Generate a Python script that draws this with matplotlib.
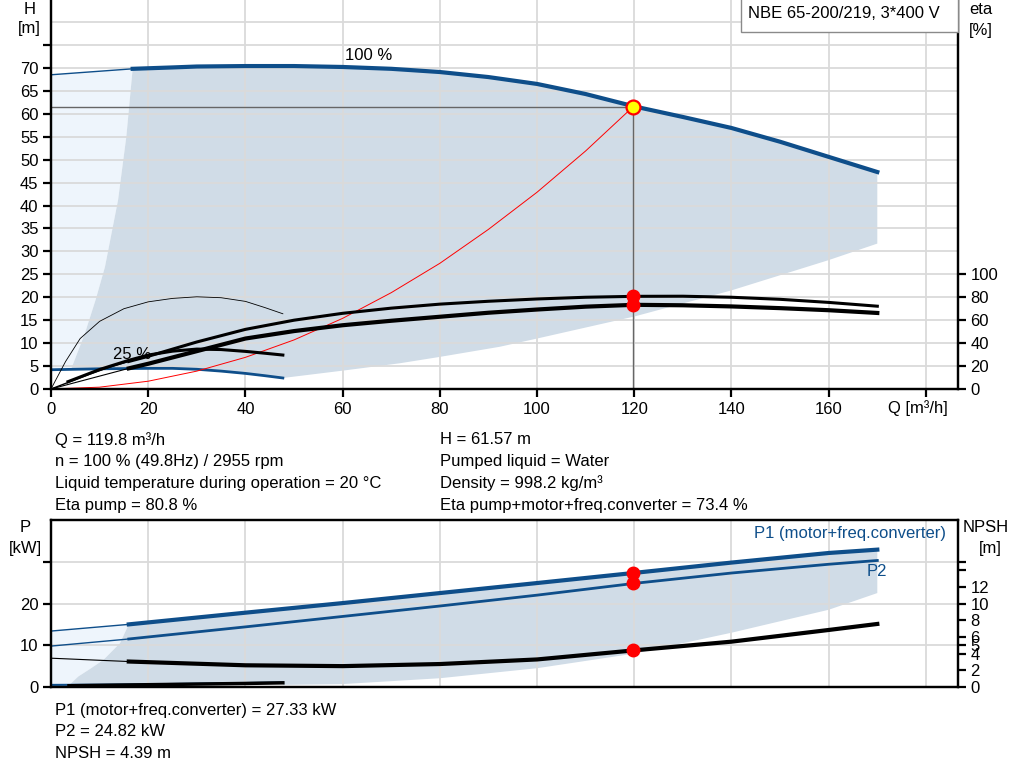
import matplotlib
matplotlib.use("Agg")
import matplotlib.pyplot as plt

plt.rcParams["font.family"] = ["Liberation Sans", "DejaVu Sans"]
plt.rcParams["font.size"] = 12

BLUE = "#0e4e8a"
SHADE = "#d0dce7"
LIGHT = "#eef5fc"
GRID = "#dadada"

# duty point
duty_q = 119.8
duty_h = 61.57
duty_eta_pump = 80.8
duty_eta_total = 73.4
duty_p1 = 27.33
duty_p2 = 24.82
duty_npsh = 4.39

# head curve, 100 % speed
h100_q = [0, 16.8, 25, 30, 40, 50, 60, 70, 80, 90, 100, 110, 120, 130, 140, 150, 160, 170]
h100_h = [68.5, 69.8, 70.1, 70.3, 70.4, 70.4, 70.2, 69.8, 69.1, 68.0, 66.5, 64.3, 61.6, 59.3, 56.9, 53.9, 50.6, 47.3]

# head curve, 25 % speed
h25_q = [0, 10, 20, 25, 30, 35, 40, 44, 47.7]
h25_h = [4.2, 4.4, 4.5, 4.5, 4.3, 3.9, 3.4, 2.9, 2.4]

# limits of the operating area
minflow_q = [4.2, 7.0, 9.2, 11.1, 13.8, 15.5, 16.8]
minflow_h = [4.5, 12.2, 19.5, 26.6, 41.2, 55.0, 69.8]
maxflow_q = [47.7, 60, 71.7, 80, 92.3, 100, 120, 140, 160, 170]
maxflow_h = [2.4, 4.0, 5.6, 7.0, 9.2, 11.0, 15.8, 21.5, 28.1, 31.7]

# system curve
sys_q = [0, 10, 20, 30, 40, 50, 60, 70, 80, 90, 100, 110, 119.8]
sys_h = [0, 0.4, 1.7, 3.9, 6.9, 10.7, 15.4, 21.0, 27.4, 34.8, 42.9, 51.9, 61.57]

# efficiency curves [%]
eta_q = [0, 4, 8, 12, 16, 20, 30, 40, 50, 60, 70, 80, 90, 100, 110, 120, 130, 140, 150, 160, 170]
eta_pump = [0, 6.5, 13, 19, 24, 28.5, 41, 52, 60, 66, 70.5, 74, 76.5, 78.5, 80, 80.8, 80.9, 80, 78.2, 75.5, 72.2]
eta_total = [0, 4.5, 9, 13.5, 18, 22, 33, 44, 50.5, 55.6, 59.5, 63, 66.5, 69.3, 71.8, 73.4, 73.0, 72.0, 70.5, 68.7, 66.3]
eta25_q = [0, 3, 6, 10, 15, 20, 25, 30, 35, 40, 44, 47.7]
eta25_pump = [0, 24, 44, 59, 70, 76, 79, 80.4, 79.6, 76.4, 71, 65.6]
eta25t_q = [3.5, 10, 16, 20, 25, 30, 35, 40, 44, 47.7]
eta25_total = [6.4, 17, 25, 29.6, 33, 34.8, 34.4, 32.8, 31.2, 29.6]

# power and NPSH
p_q = [0, 16, 40, 60, 80, 100, 120, 140, 160, 170]
p1_kw = [13.4, 15.0, 17.8, 20.1, 22.5, 24.9, 27.33, 29.8, 32.1, 32.9]
p2_kw = [9.8, 11.5, 14.4, 16.9, 19.4, 22.0, 24.82, 27.3, 29.4, 30.3]
npsh_m = [3.45, 3.05, 2.6, 2.5, 2.75, 3.3, 4.39, 5.43, 6.83, 7.55]
p25_q = [3.7, 10, 20, 30, 40, 47.7]
p25_kw = [0.3, 0.4, 0.55, 0.7, 0.85, 1.0]
p25b_q = [0, 10, 20, 30, 40, 47.7]
p25b_kw = [0.5, 0.55, 0.65, 0.8, 0.95, 1.1]
pmin_q = [3.7, 5.6, 8.0, 10.8, 14.2, 16.0]
pmin_kw = [0.4, 2.5, 4.3, 6.5, 10.5, 15.0]
pmax_q = [47.7, 60, 80, 100, 120, 140, 160, 170]
pmax_kw = [0.5, 0.7, 2.1, 4.5, 8.0, 13.0, 18.5, 22.5]

h_ticks = list(range(0, 80, 5))
eta_ticks = list(range(0, 120, 20))
q_ticks = list(range(0, 200, 20))
p_ticks = [0, 10, 20, 30]
npsh_ticks = [0, 2, 4, 5, 6, 8, 10, 12, 14, 15]

XMAX = 186.6


def style_axis(ax):
    for side in ("left", "right", "bottom", "top"):
        ax.spines[side].set_linewidth(1.6)
    ax.tick_params(direction="out", length=6, width=1.6, pad=3, labelsize=12)


def draw_grid(ax, levels):
    for q in q_ticks[1:]:
        ax.axvline(q, color=GRID, lw=1.3, zorder=0.5)
    for v in levels:
        ax.axhline(v, color=GRID, lw=1.3, zorder=0.5)


fig = plt.figure(figsize=(10.24, 7.81), dpi=100)

# ---------------- head / efficiency chart ----------------
ax = fig.add_axes([51 / 1024, 1 - 389 / 781, 907 / 1024, 389 / 781])
ax.set_xlim(0, XMAX)
ax.set_ylim(0, 84.8)
style_axis(ax)
ax.spines["top"].set_visible(False)
draw_grid(ax, range(5, 85, 5))

light_x = [h100_q[0], h100_q[1]] + minflow_q[::-1] + [h25_q[0]]
light_y = [h100_h[0], h100_h[1]] + minflow_h[::-1] + [h25_h[0]]
ax.fill(light_x, light_y, color=LIGHT, lw=0, zorder=0.3)

top_q = [q for q in h100_q if q >= minflow_q[-1]]
top_h = h100_h[len(h100_q) - len(top_q):]
low_q = [q for q in h25_q if minflow_q[0] < q]
low_h = h25_h[len(h25_q) - len(low_q):]
dark_x = minflow_q + top_q + maxflow_q[::-1] + low_q[::-1]
dark_y = minflow_h + top_h + maxflow_h[::-1] + low_h[::-1]
ax.fill(dark_x, dark_y, color=SHADE, lw=0, zorder=0.3)

ax.plot(h100_q[:2], h100_h[:2], color=BLUE, lw=1, zorder=2)
ax.plot(top_q, top_h, color=BLUE, lw=3, zorder=2)
ax.plot(h25_q, h25_h, color=BLUE, lw=2, zorder=2)
ax.plot(sys_q, sys_h, color="red", lw=0.7, zorder=2)

ax.plot([0, duty_q], [duty_h, duty_h], color="#666666", lw=1, zorder=1.5)
ax.plot([duty_q, duty_q], [0, duty_h], color="#666666", lw=1, zorder=1.5)

ax.set_xticks(q_ticks)
ax.set_xticklabels([str(q) for q in q_ticks[:-1]] + [""])
ax.set_yticks(h_ticks)
ax.set_yticklabels([str(h) for h in h_ticks[:-1]] + [""])
ax.text(60.5, 72.6, "100 %", va="center", ha="left", zorder=3)

ax2 = ax.twinx()
ax2.set_ylim(0, 84.8 * 4)
style_axis(ax2)
ax2.spines["top"].set_visible(False)
ax2.set_yticks(eta_ticks)
ax2.plot(eta_q[:5], eta_pump[:5], color="black", lw=1)
ax2.plot(eta_q[4:], eta_pump[4:], color="black", lw=2.2)
ax2.plot(eta_q[:5], eta_total[:5], color="black", lw=0.8)
ax2.plot(eta_q[4:], eta_total[4:], color="black", lw=3)
ax2.plot(eta25_q, eta25_pump, color="black", lw=0.6)
ax2.plot(eta25t_q, eta25_total, color="black", lw=2.2)
ax2.plot([duty_q, duty_q], [duty_eta_pump, duty_eta_total], "o",
         color="red", ms=9, zorder=4)
ax2.plot([duty_q], [duty_h * 4], "o", mfc="#ffff00", mec="red", mew=1.6,
         ms=10, zorder=5)
ax2.text(12.8, 7.6 * 4, "25 %", va="center", ha="left", zorder=3)

fig.text(888 / 1024, 1 - 408 / 781, "Q [m³/h]", va="center", ha="left")
fig.text(30 / 1024, 1 - 9 / 781, "H", va="center", ha="center")
fig.text(29 / 1024, 1 - 28 / 781, "[m]", va="center", ha="center")
fig.text(981 / 1024, 1 - 10 / 781, "eta", va="center", ha="center")
fig.text(981 / 1024, 1 - 30 / 781, "[%]", va="center", ha="center")
fig.text(748 / 1024, 1 - 14 / 781, "NBE 65-200/219, 3*400 V", va="center",
         ha="left", zorder=6)
fig.patches.append(plt.Rectangle((741 / 1024, 1 - 32 / 781), 217 / 1024, 40 / 781,
                                 transform=fig.transFigure, fc="white",
                                 ec="#8a8a8a", lw=1, zorder=5))

info_left = [f"Q = {duty_q} m³/h",
             "n = 100 % (49.8Hz) / 2955 rpm",
             "Liquid temperature during operation = 20 °C",
             f"Eta pump = {duty_eta_pump} %"]
info_right = [f"H = {duty_h} m",
              "Pumped liquid = Water",
              "Density = 998.2 kg/m³",
              f"Eta pump+motor+freq.converter = {duty_eta_total} %"]
for i, (a, b) in enumerate(zip(info_left, info_right)):
    y = 1 - (440 + 21.7 * i) / 781
    fig.text(55 / 1024, y, a, va="center", ha="left")
    fig.text(440 / 1024, y, b, va="center", ha="left")

# ---------------- power / NPSH chart ----------------
bx = fig.add_axes([51 / 1024, 1 - 687 / 781, 907 / 1024, 167 / 781])
bx.set_xlim(0, XMAX)
bx.set_ylim(0, 40)
style_axis(bx)
draw_grid(bx, p_ticks[1:])
bx.set_xticks([])
bx.set_yticks(p_ticks)
bx.set_yticklabels([str(p) for p in p_ticks[:-1]] + [""])

blight_x = [p_q[0], p_q[1]] + pmin_q[::-1] + [p25b_q[0]]
blight_y = [p1_kw[0], p1_kw[1]] + pmin_kw[::-1] + [p25b_kw[0]]
bx.fill(blight_x, blight_y, color=LIGHT, lw=0, zorder=0.3)
bdark_x = pmin_q + p_q[1:] + pmax_q[::-1] + p25_q[::-1]
bdark_y = pmin_kw + p1_kw[1:] + pmax_kw[::-1] + p25_kw[::-1]
bx.fill(bdark_x, bdark_y, color=SHADE, lw=0, zorder=0.3)

bx.plot(p_q[:2], p1_kw[:2], color=BLUE, lw=1, zorder=2)
bx.plot(p_q[1:], p1_kw[1:], color=BLUE, lw=3, zorder=2)
bx.plot(p_q[:2], p2_kw[:2], color=BLUE, lw=1, zorder=2)
bx.plot(p_q[1:], p2_kw[1:], color=BLUE, lw=2, zorder=2)
bx.plot(p25b_q, p25b_kw, color=BLUE, lw=1.5, zorder=2)
bx.plot(p25_q, p25_kw, color="black", lw=2.5, zorder=2.1)
bx.plot([duty_q, duty_q], [duty_p1, duty_p2], "o", color="red", ms=9, zorder=4)
bx.text(184.2, 36.7, "P1 (motor+freq.converter)", color=BLUE, va="center", ha="right")
bx.text(167.7, 27.6, "P2", color=BLUE, va="center", ha="left")

bx2 = bx.twinx()
bx2.set_ylim(0, 20)
style_axis(bx2)
bx2.set_yticks(npsh_ticks)
bx2.set_yticklabels([str(n) for n in npsh_ticks[:-2]] + ["", ""])
bx2.plot(p_q[:2], npsh_m[:2], color="black", lw=0.8)
bx2.plot(p_q[1:], npsh_m[1:], color="black", lw=3)
bx2.plot([duty_q], [duty_npsh], "o", color="red", ms=9, zorder=4)

fig.text(25 / 1024, 1 - 528 / 781, "P", va="center", ha="center")
fig.text(25 / 1024, 1 - 548 / 781, "[kW]", va="center", ha="center")
fig.text(986 / 1024, 1 - 528 / 781, "NPSH", va="center", ha="center")
fig.text(990 / 1024, 1 - 548 / 781, "[m]", va="center", ha="center")

info_bottom = [f"P1 (motor+freq.converter) = {duty_p1} kW",
               f"P2 = {duty_p2} kW",
               f"NPSH = {duty_npsh} m"]
for i, t in enumerate(info_bottom):
    fig.text(55 / 1024, 1 - (710 + 21.5 * i) / 781, t, va="center", ha="left")

fig.savefig("out.png", dpi=100)
